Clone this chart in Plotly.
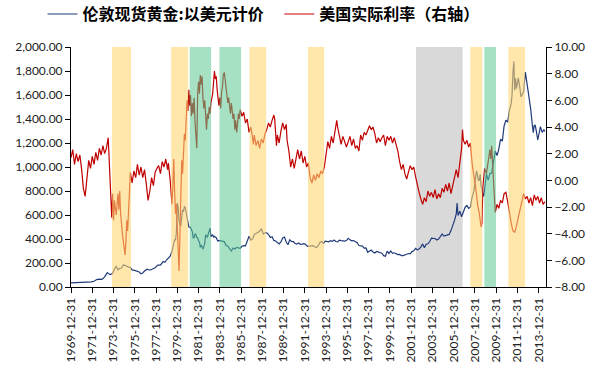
import plotly.graph_objects as go

# ---------------- data ----------------
gold_dates = [
    "1970-01","1970-06","1970-12","1971-06","1971-12","1972-03","1972-06","1972-09","1972-12",
    "1973-03","1973-06","1973-09","1973-12","1974-02","1974-04","1974-06","1974-08","1974-10","1974-12",
    "1975-02","1975-04","1975-06","1975-08","1975-10","1975-12","1976-03","1976-06","1976-08","1976-10","1976-12",
    "1977-03","1977-06","1977-09","1977-12","1978-03","1978-06","1978-09","1978-11",
    "1979-01","1979-03","1979-05","1979-07","1979-09","1979-10","1979-11","1979-12",
    "1980-01","1980-02","1980-03","1980-04","1980-05","1980-06","1980-07","1980-08","1980-09","1980-10","1980-11","1980-12",
    "1981-01","1981-02","1981-03","1981-04","1981-05","1981-06","1981-07","1981-08","1981-09","1981-10","1981-11","1981-12",
    "1982-01","1982-02","1982-03","1982-04","1982-05","1982-06","1982-07","1982-08","1982-09","1982-10","1982-11","1982-12",
    "1983-01","1983-02","1983-03","1983-04","1983-05","1983-06","1983-07","1983-08","1983-09","1983-10","1983-11","1983-12",
    "1984-02","1984-04","1984-06","1984-08","1984-10","1984-12",
    "1985-02","1985-04","1985-06","1985-08","1985-10","1985-12",
    "1986-02","1986-04","1986-06","1986-08","1986-09","1986-10","1986-12",
    "1987-02","1987-04","1987-06","1987-08","1987-10","1987-12",
    "1988-02","1988-04","1988-06","1988-08","1988-10","1988-12",
    "1989-02","1989-04","1989-06","1989-08","1989-10","1989-12",
    "1990-02","1990-04","1990-06","1990-08","1990-10","1990-12",
    "1991-02","1991-04","1991-06","1991-08","1991-10","1991-12",
    "1992-02","1992-04","1992-06","1992-08","1992-10","1992-12",
    "1993-02","1993-04","1993-06","1993-08","1993-10","1993-12",
    "1994-02","1994-04","1994-06","1994-08","1994-10","1994-12",
    "1995-02","1995-04","1995-06","1995-08","1995-10","1995-12",
    "1996-02","1996-04","1996-06","1996-08","1996-10","1996-12",
    "1997-02","1997-04","1997-06","1997-08","1997-10","1997-12",
    "1998-02","1998-04","1998-06","1998-08","1998-10","1998-12",
    "1999-02","1999-04","1999-06","1999-08","1999-10","1999-12",
    "2000-02","2000-04","2000-06","2000-08","2000-10","2000-12",
    "2001-02","2001-04","2001-06","2001-08","2001-10","2001-12",
    "2002-02","2002-04","2002-06","2002-08","2002-10","2002-12",
    "2003-02","2003-04","2003-06","2003-08","2003-10","2003-12",
    "2004-02","2004-04","2004-06","2004-08","2004-10","2004-12",
    "2005-02","2005-04","2005-06","2005-08","2005-10","2005-12",
    "2006-02","2006-04","2006-05","2006-06","2006-08","2006-10","2006-12",
    "2007-02","2007-04","2007-06","2007-08","2007-10","2007-12",
    "2008-01","2008-02","2008-03","2008-04","2008-05","2008-06","2008-07","2008-08","2008-09","2008-10","2008-11","2008-12",
    "2009-02","2009-04","2009-06","2009-08","2009-10","2009-12",
    "2010-02","2010-04","2010-06","2010-08","2010-10","2010-12",
    "2011-02","2011-04","2011-06","2011-07","2011-08","2011-09","2011-10","2011-11","2011-12",
    "2012-02","2012-04","2012-05","2012-06","2012-08","2012-10","2012-12",
    "2013-02","2013-04","2013-06","2013-07","2013-08","2013-09","2013-10","2013-12",
    "2014-02","2014-03","2014-05","2014-07","2014-08",
]
gold_values = [
    35, 35.5, 37, 40, 43, 48, 62, 65, 64,
    84, 120, 103, 112, 150, 172, 143, 155, 158, 183,
    180, 170, 165, 163, 143, 140, 132, 125, 110, 117, 133,
    148, 140, 150, 161, 183, 183, 212, 206,
    227, 240, 257, 296, 355, 392, 392, 455,
    700, 665, 553, 517, 513, 600, 644, 627, 673, 661, 623, 594,
    557, 500, 499, 496, 479, 460, 409, 410, 444, 437, 413, 410,
    384, 374, 330, 350, 334, 315, 339, 364, 435, 422, 414, 444,
    481, 491, 420, 432, 437, 413, 422, 416, 411, 394, 382, 388,
    386, 381, 378, 347, 340, 320,
    300, 325, 317, 330, 326, 323,
    339, 345, 343, 384, 420, 423, 391,
    401, 438, 447, 460, 465, 486,
    442, 452, 451, 437, 412, 419,
    388, 384, 367, 359, 375, 409,
    416, 375, 352, 394, 380, 378,
    363, 357, 367, 356, 358, 361,
    354, 338, 340, 343, 344, 335,
    329, 342, 372, 379, 364, 383,
    382, 377, 386, 380, 392, 379,
    376, 391, 387, 383, 383, 387,
    405, 393, 385, 387, 381, 369,
    346, 343, 341, 324, 325, 289,
    297, 308, 292, 284, 296, 291,
    287, 282, 261, 257, 299, 280,
    300, 280, 285, 274, 270, 272,
    262, 261, 270, 273, 279, 276,
    295, 302, 322, 310, 317, 333,
    359, 328, 356, 360, 379, 407,
    405, 404, 392, 400, 420, 442,
    424, 429, 430, 438, 470, 510,
    555, 610, 700, 596, 632, 585, 629,
    665, 679, 655, 665, 754, 803,
    889, 922, 968, 909, 888, 889, 939, 839, 829, 760, 760, 816,
    943, 890, 945, 949, 1043, 1134,
    1095, 1149, 1232, 1215, 1342, 1391,
    1374, 1473, 1528, 1600, 1780, 1880, 1640, 1739, 1652,
    1742, 1650, 1585, 1596, 1626, 1790, 1688,
    1627, 1485, 1342, 1286, 1347, 1349, 1316, 1225,
    1300, 1336, 1288, 1311, 1296,
]

rate_dates = [
    "1970-01","1970-03","1970-05","1970-07","1970-09","1970-11",
    "1971-01","1971-03","1971-05","1971-07","1971-09","1971-11",
    "1972-01","1972-03","1972-05","1972-07","1972-09","1972-11",
    "1973-01","1973-03","1973-05","1973-07","1973-08","1973-09","1973-10","1973-11","1973-12",
    "1974-01","1974-02","1974-04","1974-06","1974-07","1974-08","1974-09","1974-11",
    "1975-01","1975-02","1975-03","1975-04","1975-05","1975-06","1975-07","1975-08","1975-10","1975-12",
    "1976-02","1976-04","1976-06","1976-08","1976-10","1976-12",
    "1977-02","1977-04","1977-06","1977-08","1977-10","1977-12",
    "1978-02","1978-04","1978-06","1978-08","1978-10","1978-12",
    "1979-02","1979-03","1979-05","1979-06","1979-07","1979-08","1979-09","1979-10","1979-11","1979-12",
    "1980-01","1980-02","1980-03","1980-04","1980-05","1980-06","1980-07","1980-08","1980-09","1980-10","1980-11","1980-12",
    "1981-01","1981-02","1981-03","1981-04","1981-05","1981-06","1981-07","1981-08","1981-09","1981-10","1981-11","1981-12",
    "1982-01","1982-02","1982-03","1982-04","1982-05","1982-06","1982-07","1982-08","1982-09","1982-10","1982-11","1982-12",
    "1983-01","1983-02","1983-03","1983-05","1983-06","1983-07","1983-08","1983-09","1983-10","1983-11","1983-12",
    "1984-01","1984-02","1984-03","1984-04","1984-05","1984-06","1984-07","1984-08","1984-09","1984-10","1984-11","1984-12",
    "1985-01","1985-02","1985-03","1985-04","1985-05","1985-06","1985-07","1985-08","1985-09","1985-10","1985-11","1985-12",
    "1986-02","1986-04","1986-06","1986-08","1986-10","1986-12",
    "1987-02","1987-03","1987-04","1987-06","1987-08","1987-10","1987-12",
    "1988-02","1988-04","1988-06","1988-08","1988-10","1988-12",
    "1989-02","1989-03","1989-04","1989-05","1989-06","1989-08","1989-10","1989-12",
    "1990-02","1990-04","1990-05","1990-07","1990-09","1990-11",
    "1991-01","1991-03","1991-05","1991-07","1991-09","1991-11",
    "1992-01","1992-03","1992-05","1992-07","1992-09","1992-11",
    "1993-01","1993-03","1993-05","1993-07","1993-09","1993-11",
    "1994-01","1994-03","1994-05","1994-07","1994-09","1994-11",
    "1995-01","1995-02","1995-04","1995-06","1995-08","1995-10","1995-12",
    "1996-02","1996-04","1996-06","1996-08","1996-10","1996-12",
    "1997-02","1997-04","1997-06","1997-08","1997-10","1997-12",
    "1998-02","1998-04","1998-06","1998-08","1998-10","1998-12",
    "1999-02","1999-04","1999-06","1999-08","1999-10","1999-12",
    "2000-02","2000-04","2000-06","2000-08","2000-10","2000-12",
    "2001-02","2001-04","2001-06","2001-08","2001-10","2001-12",
    "2002-02","2002-04","2002-06","2002-08","2002-10","2002-12",
    "2003-02","2003-04","2003-06","2003-08","2003-10","2003-12",
    "2004-02","2004-04","2004-06","2004-08","2004-10","2004-12",
    "2005-02","2005-04","2005-06","2005-08","2005-10","2005-12",
    "2006-02","2006-04","2006-06","2006-08","2006-10","2006-11","2006-12",
    "2007-02","2007-04","2007-06","2007-08","2007-10","2007-12",
    "2008-02","2008-04","2008-06","2008-08","2008-09","2008-10","2008-11","2008-12",
    "2009-02","2009-04","2009-06","2009-07","2009-08","2009-09","2009-10","2009-11","2009-12",
    "2010-02","2010-04","2010-06","2010-08","2010-10","2010-12",
    "2011-02","2011-04","2011-06","2011-08","2011-10","2011-12",
    "2012-02","2012-04","2012-06","2012-08","2012-10","2012-12",
    "2013-02","2013-04","2013-06","2013-08","2013-10","2013-12",
    "2014-02","2014-04","2014-06","2014-08",
]
rate_values = [
    1.7, 2.3, 1.2, 2.0, 1.4, 1.9,
    0.8, -0.6, -1.2, 0.2, 1.5, 0.9,
    1.8, 1.2, 2.1, 1.5, 2.4, 1.9,
    2.6, 2.0, 2.4, 3.2, 1.8, 0.5, -2.0, -2.8, -1.0,
    -3.0, -1.5, -2.6, -1.0, -2.2, -0.8, -2.5, -4.0,
    -5.3, -5.6, -4.6, -3.0, -3.8, -2.2, -0.5, 0.6, -0.2, 0.7,
    0.2, 1.2, 0.4, 1.0, 0.2, 0.8,
    -0.3, -1.5, -0.8, 0.2, -0.4, 0.6,
    0.9, 1.1, 0.5, 1.4, 1.0, 1.6,
    0.8, 1.3, 0.0, -1.2, -1.8, -0.5, 1.6, -0.8, -2.5, -1.8,
    -3.5, -5.0, -6.8, -4.0, -1.0, 1.5, 0.5, 2.2, 3.5, 3.0, 4.6, 6.0,
    5.2, 6.8, 5.6, 6.4, 4.8, 5.8, 5.0, 6.2, 4.4, 3.5, 2.4, 6.5,
    7.4, 6.5, 7.9, 7.2, 7.8, 6.2, 5.4, 6.0, 4.4, 3.8, 5.0, 4.6,
    5.5, 5.0, 5.8, 6.5, 7.4, 8.2, 7.6, 7.8, 6.8, 6.0, 5.6,
    6.2, 5.4, 6.6, 7.0, 7.9, 8.1, 7.6, 7.0, 6.5, 5.8, 6.2, 5.4,
    5.0, 5.8, 5.2, 4.6, 5.0, 3.8, 4.5, 3.6, 4.2, 5.0, 4.6, 5.3,
    4.8, 5.1, 4.3, 4.6, 3.6, 4.0,
    3.2, 2.7, 3.4, 2.6, 3.0, 2.4, 3.1,
    2.8, 3.5, 3.8, 4.3, 4.0, 4.5,
    4.9, 4.6, 3.6, 2.6, 3.4, 2.8, 3.7, 4.3,
    3.8, 4.2, 3.0, 2.2, 1.0, 1.6,
    0.9, 1.6, 2.3, 1.6, 2.2, 1.3,
    1.8, 1.0, 1.3, 0.2, -0.2, 0.4,
    0.0, 0.5, 0.2, 0.7, 0.5, 1.0,
    1.8, 2.9, 2.4, 3.3, 2.8, 3.7,
    4.5, 4.0, 3.3, 2.7, 3.3, 2.8, 2.5,
    2.9, 3.3, 2.6, 3.1, 2.4, 2.6,
    2.2, 3.4, 3.0, 3.6, 3.4, 3.8,
    4.1, 3.8, 4.0, 3.5, 2.8, 3.2,
    2.9, 3.2, 3.4, 2.6, 3.3, 3.0,
    3.3, 2.8, 3.2, 2.7, 2.2, 1.4,
    0.8, 1.2, 0.5, 0.1, 0.6, 1.1,
    0.8, 1.0, 0.3, -0.4, -0.9, -1.4,
    -1.8, -1.3, -1.6, -0.8, -1.2, -0.9,
    -1.3, -0.7, -1.4, -1.0, -1.3, -0.6,
    -0.9, -0.3, -0.8, -0.2, -1.0, -0.4,
    0.3, 0.8, 0.2, 1.3, 2.4, 3.8, 3.0,
    2.7, 3.0, 2.5, 2.8, 1.2, 0.4,
    -0.6, -1.8, -2.5, -3.5, -3.2, -0.5, 0.6, 0.9,
    0.5, 1.4, 2.3, 1.6, 2.6, 1.2, 0.2, -1.0, -2.4,
    -1.8, -2.1, -1.5, -1.7, -1.0, -0.9,
    -1.6, -2.6, -3.2, -3.8, -3.9, -3.4,
    -2.8, -2.0, -1.5, -1.0, -1.4, -1.2,
    -1.7, -1.3, -1.9, -1.1, -1.5, -1.2,
    -1.7, -1.3, -1.8, -1.6,
]

tick_labels = [f"{y}-12-31" for y in range(1969, 2014, 2)]

# shaded periods
yellow_start = ["1973-11-10", "1979-06-03", "1986-10-16", "1992-04-16", "2007-07-27", "2011-02-24"]
yellow_end   = ["1975-08-25", "1981-01-08", "1988-05-12", "1993-10-27", "2008-09-12", "2012-09-20"]
green_start  = ["1981-03-03", "1983-12-20", "2008-11-20"]
green_end    = ["1983-03-07", "1986-01-01", "2009-12-27"]
gray_start   = ["2002-06-18"]
gray_end     = ["2006-11-06"]

name_gold = "伦敦现货黄金:以美元计价"
name_rate = "美国实际利率（右轴）"

# ---------------- figure ----------------
fig = go.Figure()
fig.add_trace(go.Scatter(x=gold_dates, y=gold_values, name=name_gold, mode="lines",
                         line=dict(color="#1F3A7A", width=1.2), yaxis="y", legend="legend"))
fig.add_trace(go.Scatter(x=rate_dates, y=rate_values, name=name_rate, mode="lines",
                         line=dict(color="#C00000", width=1.2), yaxis="y2", legend="legend2"))

shapes = []
for s, e in zip(gray_start, gray_end):
    shapes.append(dict(type="rect", xref="x", yref="paper", x0=s, x1=e, y0=0, y1=1,
                       fillcolor="#D9D9D9", line=dict(width=0), layer="below"))
for s, e in zip(yellow_start, yellow_end):
    shapes.append(dict(type="rect", xref="x", yref="paper", x0=s, x1=e, y0=0, y1=1,
                       fillcolor="#FFD571", opacity=0.6, line=dict(width=0), layer="above"))
for s, e in zip(green_start, green_end):
    shapes.append(dict(type="rect", xref="x", yref="paper", x0=s, x1=e, y0=0, y1=1,
                       fillcolor="#5DC891", opacity=0.55, line=dict(width=0), layer="above"))

tick_font = dict(family="Lato, Arial, sans-serif", size=12, color="#222222")
legend_font = dict(family="Noto Sans CJK SC", size=16, color="#000000", weight=700)

fig.update_layout(
    width=593, height=371,
    margin=dict(l=71, r=47, t=47, b=84, autoexpand=False),
    paper_bgcolor="white", plot_bgcolor="white",
    shapes=shapes,
    showlegend=True,
    legend=dict(orientation="h", xref="container", yref="container",
                x=0.0717, xanchor="left", y=0.962, yanchor="middle",
                font=legend_font, bgcolor="rgba(0,0,0,0)"),
    legend2=dict(orientation="h", xref="container", yref="container",
                 x=0.471, xanchor="left", y=0.962, yanchor="middle",
                 font=legend_font, bgcolor="rgba(0,0,0,0)"),
    xaxis=dict(type="date", range=["1969-12-31", "2014-09-10"],
               tickmode="array", tickvals=tick_labels, ticktext=tick_labels,
               tickangle=-90, tickfont=tick_font, automargin=False,
               showgrid=False, zeroline=False,
               showline=True, linecolor="#000000", linewidth=1,
               ticks="outside", ticklen=5, tickcolor="#000000"),
    yaxis=dict(range=[0, 2000], dtick=200, tick0=0, tickformat=",.2f",
               tickfont=tick_font, showgrid=False, zeroline=False, automargin=False,
               showline=True, linecolor="#000000", linewidth=1,
               ticks="outside", ticklen=5, tickcolor="#000000"),
    yaxis2=dict(range=[-8, 10], dtick=2, tick0=0, tickformat=".2f",
                overlaying="y", side="right", automargin=False,
                tickfont=tick_font, showgrid=False, zeroline=False,
                showline=True, linecolor="#000000", linewidth=1,
                ticks="outside", ticklen=5, tickcolor="#000000"),
)

fig.write_html("out.html", config={"displayModeBar": False},
               post_script="document.body.style.margin='0px';")
